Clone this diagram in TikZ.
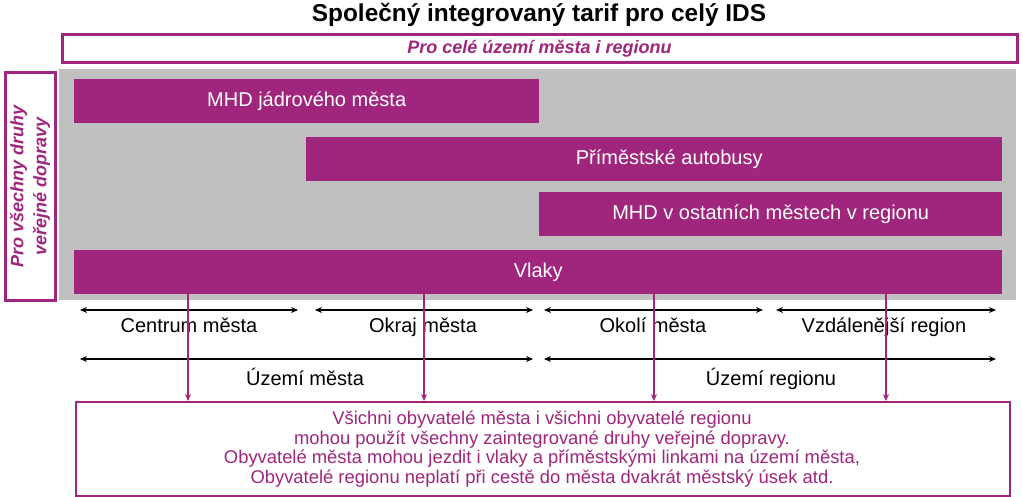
\documentclass[tikz,border=0pt]{standalone}
\usepackage{fontspec}
\setmainfont{Liberation Sans}
\usetikzlibrary{arrows.meta}
\definecolor{ipurple}{RGB}{160,38,125}
\definecolor{igray}{RGB}{192,192,192}
\begin{document}
\begin{tikzpicture}[x=1pt,y=-1pt,
  bar/.style={fill=ipurple,draw=none,text=white,font=\fontsize{20}{24}\selectfont,
    anchor=north west,inner sep=0pt,minimum height=44pt},
  frame/.style={draw=ipurple,line width=3pt,fill=white,anchor=north west,inner sep=0pt},
  lbl/.style={font=\fontsize{20}{24}\selectfont,text=black,inner sep=0pt,anchor=base},
  ptitle/.style={font=\fontsize{18}{21}\selectfont\bfseries\itshape,text=ipurple,inner sep=0pt},
  span/.style={{Stealth[length=7pt,width=6pt]}-{Stealth[length=7pt,width=6pt]},line width=1.6pt,black},
  down/.style={-{Stealth[length=7pt,width=6pt]},line width=1.4pt,ipurple}]
\useasboundingbox (0,0) rectangle (1023,497);
% title
\node[font=\fontsize{24.4}{28}\selectfont\bfseries,inner sep=0pt] (title) at (539,15) {Společný integrovaný tarif pro celý IDS};
% top frame
\node[frame,minimum width=955pt,minimum height=28pt] (whole) at (60.5,33.5) {};
\node[ptitle] (wholet) at (whole.center) {Pro celé území města i regionu};
% gray area
\node[fill=igray,draw=none,anchor=north west,inner sep=0pt,minimum width=957pt,minimum height=231pt] (area) at (59,69) {};
% left frame
\node[frame,minimum width=50pt,minimum height=227pt] (modes) at (3.5,71.5) {};
\node[ptitle,rotate=90,align=center,font=\fontsize{18}{23}\selectfont\bfseries\itshape] (modest) at (modes.center) {Pro všechny druhy\\veřejné dopravy};
% bars
\node[bar,minimum width=465pt] (mhd) at (74,79) {MHD jádrového města};
\node[bar,minimum width=696pt] (prim) at (306,137) {\hspace*{30pt}Příměstské autobusy};
\node[bar,minimum width=463pt] (mhdo) at (539,192) {MHD v ostatních městech v regionu};
\node[bar,minimum width=928pt] (vlaky) at (74,250) {Vlaky};
% bottom info box
\node[draw=ipurple,line width=2pt,fill=white,anchor=north west,inner sep=0pt,minimum width=934pt,minimum height=94pt] (info) at (75,401) {};
\node[font=\fontsize{18.4}{19.7}\selectfont,text=ipurple,align=center,inner sep=0pt] (infot) at (542,449) {Všichni obyvatelé města i všichni obyvatelé regionu\\
mohou použít všechny zaintegrované druhy veřejné dopravy.\\
Obyvatelé města mohou jezdit i vlaky a příměstskými linkami na území města,\\
Obyvatelé regionu neplatí při cestě do města dvakrát městský úsek atd.};
% span arrows row 1
\coordinate (a1) at (80,310); \coordinate (b1) at (298,310);
\coordinate (a2) at (315,310); \coordinate (b2) at (533,310);
\coordinate (a3) at (544,310); \coordinate (b3) at (763,310);
\coordinate (a4) at (776,310); \coordinate (b4) at (996,310);
\draw[span] (a1) -- (b1);
\draw[span] (a2) -- (b2);
\draw[span] (a3) -- (b3);
\draw[span] (a4) -- (b4);
\node[lbl] (l1) at (189,332) {Centrum města};
\node[lbl] (l2) at (423,332) {Okraj města};
\node[lbl] (l3) at (653,332) {Okolí města};
\node[lbl] (l4) at (884,332) {Vzdálenější region};
% span arrows row 2
\coordinate (c1) at (80,359); \coordinate (d1) at (533,359);
\coordinate (c2) at (544,359); \coordinate (d2) at (996,359);
\draw[span] (c1) -- (d1);
\draw[span] (c2) -- (d2);
\node[lbl] (m1) at (305,385) {Území města};
\node[lbl] (m2) at (771,385) {Území regionu};
% down arrows
\coordinate (v1) at (188,293); \coordinate (v2) at (424,293);
\coordinate (v3) at (654,293); \coordinate (v4) at (886,293);
\draw[down] (v1) -- (v1 |- info.north);
\draw[down] (v2) -- (v2 |- info.north);
\draw[down] (v3) -- (v3 |- info.north);
\draw[down] (v4) -- (v4 |- info.north);
\end{tikzpicture}
\end{document}
